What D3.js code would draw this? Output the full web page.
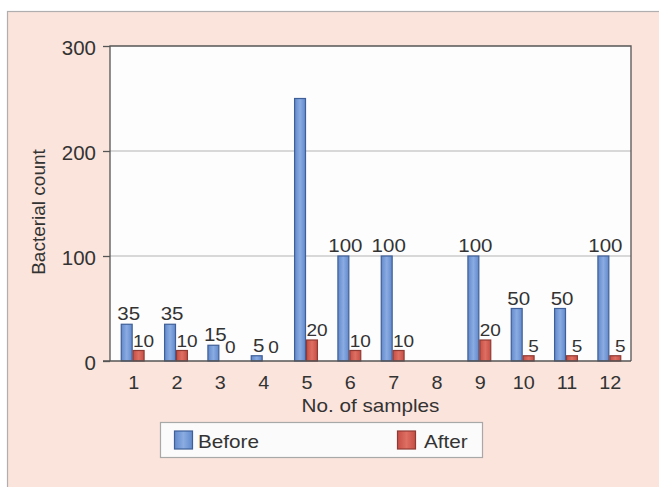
<!DOCTYPE html>
<html><head><meta charset="utf-8">
<script src="https://cdn.jsdelivr.net/npm/d3@7"></script>
<style>
html,body{margin:0;padding:0;background:#fff;}
svg{display:block;}
text{font-family:"Liberation Sans",Arial,Helvetica,sans-serif;fill:#333;}
</style></head>
<body>
<svg id="chart" width="659" height="487"></svg>
<script>
const categories = ["1","2","3","4","5","6","7","8","9","10","11","12"];
const series = ["Before","After"];
const beforeValues = [35,35,15,5,250,100,100,0,100,50,50,100];
const afterValues  = [10,10,0,0,20,10,10,0,20,5,5,5];
const beforeLabels = ["35","35","15","5","","100","100","","100","50","50","100"];
const afterLabels  = ["10","10","0","0","20","10","10","","20","5","5","5"];
const yTicks = [0,100,200,300];

const svg = d3.select("#chart");
const defs = svg.append("defs");
function grad(id, edge, mid){
  const g = defs.append("linearGradient").attr("id", id).attr("x1","0").attr("x2","1").attr("y1","0").attr("y2","0");
  g.append("stop").attr("offset","0").attr("stop-color", edge);
  g.append("stop").attr("offset","0.5").attr("stop-color", mid);
  g.append("stop").attr("offset","1").attr("stop-color", edge);
}
grad("gBlue", "#6289cb", "#8aace2");
grad("gRed", "#c64e44", "#de6f62");
const fills = {Before:"url(#gBlue)", After:"url(#gRed)"};
const strokes = {Before:"#3f5f98", After:"#8f3b34"};

// outer frame
svg.append("rect").attr("x",7.5).attr("y",11.5).attr("width",700).attr("height",600)
  .attr("fill","#fbe4dc").attr("stroke","#b0aeae").attr("stroke-width",1.2);

const L=110, R=631, T=46, B=361;
const x0 = d3.scaleBand().domain(categories).range([L+1,R]).paddingInner(0.45).paddingOuter(0.225);
const x1 = d3.scaleBand().domain(series).range([0, x0.bandwidth()]);
const y = d3.scaleLinear().domain([0,300]).range([B,T]);

// plot area
svg.append("rect").attr("x",L).attr("y",T).attr("width",R-L).attr("height",B-T).attr("fill","#fdfdfd");
// gridlines
svg.append("g").selectAll("line").data(yTicks.filter(d=>d>0 && d<300)).join("line")
  .attr("x1",L).attr("x2",R).attr("y1",d=>y(d)).attr("y2",d=>y(d))
  .attr("stroke","#b4b4b4").attr("stroke-width",1.2);

const data = categories.map((c,i)=>({cat:c, vals:[
  {s:"Before", v:beforeValues[i], label:beforeLabels[i]},
  {s:"After", v:afterValues[i], label:afterLabels[i]}]}));

const groups = svg.append("g").selectAll("g").data(data).join("g")
  .attr("transform", d=>`translate(${x0(d.cat)},0)`);
groups.selectAll("rect").data(d=>d.vals.filter(v=>v.v>0)).join("rect")
  .attr("x", d=>x1(d.s)+0.5).attr("width", x1.bandwidth()-1)
  .attr("y", d=>y(d.v)).attr("height", d=>y(0)-y(d.v))
  .attr("fill", d=>fills[d.s]).attr("stroke", d=>strokes[d.s]).attr("stroke-width",1.2);
groups.selectAll("text").data(d=>d.vals.filter(v=>v.label!=="")).join("text")
  .attr("text-anchor","middle")
  .attr("transform", d=>{
    const cx = x1(d.s)+x1.bandwidth()/2 + (d.s==="Before"?2:5);
    const cy = Math.min(y(d.v)-4, y(0)-8);
    const sc = d.s==="Before"?1.08:1.12;
    return `translate(${cx},${cy}) scale(${sc},1)`;
  })
  .style("font-size", d=>d.s==="Before"?"19px":"17px")
  .text(d=>d.label);

// plot border (left, top, right)
svg.append("path").attr("d",`M${L},${B}V${T}H${R}V${B}`).attr("fill","none").attr("stroke","#555").attr("stroke-width",1.3);

// y axis
const yAxis = svg.append("g").attr("transform",`translate(${L},0)`)
  .call(d3.axisLeft(y).tickValues(yTicks).tickSize(7).tickPadding(0).tickFormat(d3.format("d")));
yAxis.select(".domain").remove();
yAxis.selectAll(".tick line").attr("stroke","#555").attr("stroke-width",1.3);
yAxis.selectAll(".tick text").attr("x",null).attr("dy",null)
  .attr("transform","translate(-14,8) scale(1.05,1)").attr("text-anchor","end")
  .style("font-size","19.5px").style("font-family",null).attr("fill","#333");

// x axis
const xAxis = svg.append("g").attr("transform",`translate(0,${B})`)
  .call(d3.axisBottom(x0).tickSize(0).tickPadding(0));
xAxis.select(".domain").attr("stroke","#555").attr("stroke-width",1.3).attr("d",`M${L-7},0H${R}`);
xAxis.selectAll(".tick text").attr("y",null).attr("dy",null)
  .attr("transform","translate(1,27.5) scale(1.1,1)")
  .style("font-size","18px").style("font-family",null).attr("fill","#333");

// axis titles
svg.append("text").attr("text-anchor","middle")
  .attr("transform",`translate(${(L+R)/2},412) scale(1.15,1)`)
  .style("font-size","18px").text("No. of samples");
svg.append("text").attr("text-anchor","middle")
  .attr("transform",`translate(45,212) rotate(-90)`)
  .style("font-size","19px").text("Bacterial count");

// legend
const lg = svg.append("g");
lg.append("rect").attr("x",160.5).attr("y",422.5).attr("width",322).attr("height",35)
  .attr("fill","#fbfbfb").attr("stroke","#a8a8a8").attr("stroke-width",1.2);
const legendItems = [{s:"Before", sx:174, tx:198},{s:"After", sx:397, tx:424}];
legendItems.forEach(it=>{
  lg.append("rect").attr("x",it.sx+0.5).attr("y",431).attr("width",18).attr("height",18)
    .attr("fill",fills[it.s]).attr("stroke",strokes[it.s]).attr("stroke-width",1.2);
  lg.append("text").attr("transform",`translate(${it.tx},447.5) scale(1.15,1)`)
    .style("font-size","18px").text(it.s);
});
</script>
</body></html>
